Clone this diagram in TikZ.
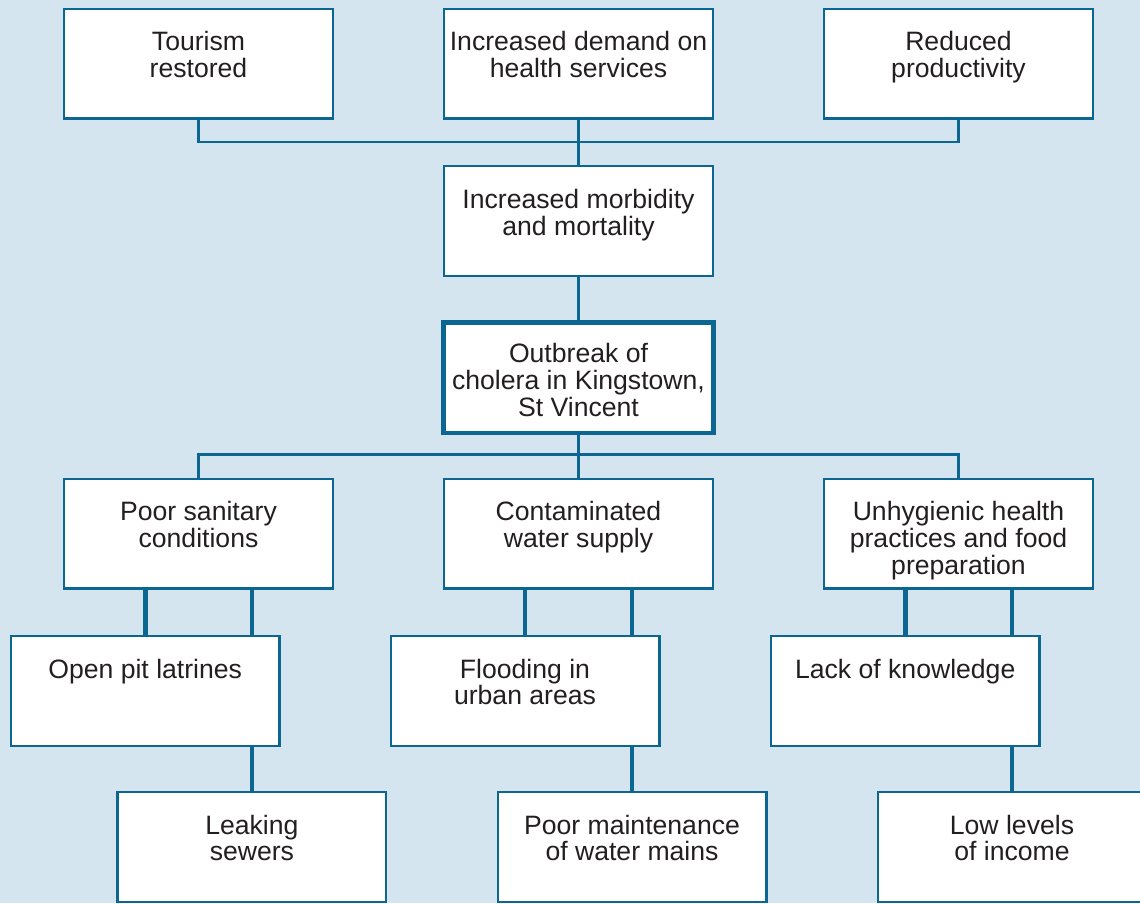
\documentclass[tikz,border=0pt]{standalone}
\usepackage{fontspec}
\setmainfont{Liberation Sans}
\pgfdeclarelayer{bg}
\pgfsetlayers{bg,main}
\definecolor{bgblue}{HTML}{D4E5EF}
\definecolor{boxblue}{HTML}{0B6791}
\definecolor{txt}{HTML}{231F20}
\tikzset{
  box/.style={draw=boxblue, fill=white, line width=2.3pt, rectangle,
    minimum width=268.7pt, minimum height=109.7pt, inner sep=0pt},
  keybox/.style={box, line width=4.5pt, minimum width=269.8pt, minimum height=110.5pt},
  lbl/.style={anchor=north, inner sep=0pt, align=center, text=txt,
    font=\fontsize{26.6}{26.8}\selectfont},
  thin/.style={draw=boxblue, line width=2.3pt},
  thick/.style={draw=boxblue, line width=4.8pt}
}
\begin{document}
\begin{tikzpicture}[x=1pt,y=-1pt]
\begin{pgfonlayer}{bg}
\fill[bgblue] (0,0) rectangle (1140,903);
\end{pgfonlayer}
\useasboundingbox (0,0) rectangle (1140,903);
% boxes
\node[box] (t1) at (198.5,63.7) {};
\node[box] (t2) at (578.5,63.7) {};
\node[box] (t3) at (958.5,63.7) {};
\node[box] (mo) at (578.5,221) {};
\node[keybox] (ob) at (578.5,377.5) {};
\node[box] (c1) at (198.5,533.7) {};
\node[box] (c2) at (578.5,533.7) {};
\node[box] (c3) at (958.5,533.7) {};
\node[box] (o1) at (145.2,690.8) {};
\node[box] (o2) at (525,690.8) {};
\node[box] (o3) at (905.2,690.8) {};
\node[box] (l1) at (251.9,846.8) {};
\node[box] (l2) at (632,846.8) {};
\node[box] (l3) at (1012,846.8) {};
% labels
\node[lbl] (tt1) at ([yshift=-23.8pt]t1.north) {Tourism\\restored};
\node[lbl] (tt2) at ([yshift=-23.8pt]t2.north) {Increased demand on\\health services};
\node[lbl] (tt3) at ([yshift=-23.8pt]t3.north) {Reduced\\productivity};
\node[lbl] (tmo) at ([yshift=-23.8pt]mo.north) {Increased morbidity\\and mortality};
\node[lbl] (tob) at ([yshift=-23.3pt]ob.north) {Outbreak of\\cholera in Kingstown,\\St Vincent};
\node[lbl] (tc1) at ([yshift=-23.8pt]c1.north) {Poor sanitary\\conditions};
\node[lbl] (tc2) at ([yshift=-23.8pt]c2.north) {Contaminated\\water supply};
\node[lbl] (tc3) at ([yshift=-23.8pt]c3.north) {Unhygienic health\\practices and food\\preparation};
\node[lbl] (to1) at ([yshift=-23.8pt]o1.north) {Open pit latrines};
\node[lbl] (to2) at ([yshift=-23.8pt]o2.north) {Flooding in\\urban areas};
\node[lbl] (to3) at ([yshift=-23.8pt]o3.north) {Lack of knowledge};
\node[lbl] (tl1) at ([yshift=-23.8pt]l1.north) {Leaking\\sewers};
\node[lbl] (tl2) at ([yshift=-23.8pt]l2.north) {Poor maintenance\\of water mains};
\node[lbl] (tl3) at ([yshift=-23.8pt]l3.north) {Low levels\\of income};
% connectors
\coordinate (hy1) at (0,141.7);
\coordinate (hy2) at (0,454.5);
\begin{pgfonlayer}{bg}
\draw[thin] (t1.south) -- (t1.south |- hy1) -| (t3.south);
\draw[thin] (t2.south) -- (mo.north);
\draw[thin] (mo.south) -- (ob.north);
\draw[thin] (ob.south) -- (c2.north);
\draw[thin] (c1.north) -- (c1.north |- hy2) -| (c3.north);
\draw[thick] (o1.north) -- (o1.north |- c1.south);
\draw[thick] (l1.north) -- (l1.north |- c1.south);
\draw[thick] (o2.north) -- (o2.north |- c2.south);
\draw[thick] (l2.north) -- (l2.north |- c2.south);
\draw[thick] (o3.north) -- (o3.north |- c3.south);
\draw[thick] (l3.north) -- (l3.north |- c3.south);
\end{pgfonlayer}
\end{tikzpicture}
\end{document}
